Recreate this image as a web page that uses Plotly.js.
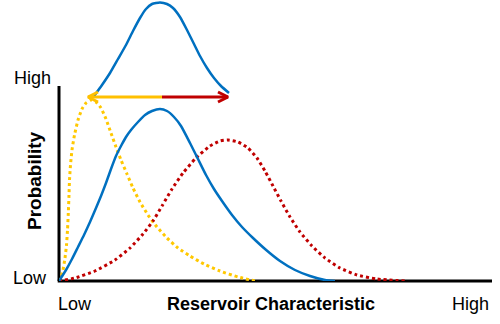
<!DOCTYPE html>
<html>
<head>
<meta charset="utf-8">
<script src="https://cdn.plot.ly/plotly-3.0.1.min.js"></script>
<style>html,body{margin:0;padding:0;background:#fff;}#chart{width:500px;height:324px;}</style>
</head>
<body>
<div id="chart"></div>
<script>
// Low-case distribution (yellow dotted)
var lowX = [0, 2, 4, 6, 7.5, 8.5, 9.3, 10, 10.5, 11.5, 13, 15.5, 19, 23, 27, 32, 37, 42, 47, 52, 57, 62, 68, 74, 81, 89, 98, 108, 119, 131, 145, 161, 179, 196];
var lowY = [0, 4, 11, 23, 36, 51, 68, 86, 101, 116, 131, 146, 161, 172, 178, 181, 179, 173, 162, 148, 134, 121, 107, 93, 79, 66, 54, 43, 33, 25, 17, 10, 4, 0];
// Mid-case distribution (blue solid)
var midX = [0, 7, 13, 19, 25, 31, 37, 42, 47, 52, 57, 62, 67, 72, 79, 86, 93, 101, 108, 115, 122, 131, 139, 147, 155, 163, 173, 183, 194, 206, 221, 236, 251, 266, 276];
var midY = [0, 11, 22, 34, 46, 59, 73, 85, 98, 112, 125, 135, 144, 151, 159, 166, 170, 172, 170, 164, 155, 138, 122, 106, 92, 80, 66, 54, 43, 32, 20, 11, 5, 1, 0];
// High-case distribution (red dotted)
var highX = [0, 16, 36, 56, 71, 84, 94, 103, 113, 124, 137, 151, 161, 169, 179, 189, 198, 206, 214, 222, 231, 241, 253, 266, 281, 298, 318, 346];
var highY = [0, 3, 10, 21, 33, 47, 60, 75, 92, 108, 123, 135, 140, 141, 139, 133, 123, 110, 95, 80, 64, 49, 35, 23, 13, 6, 2, 0];
// Upper bell curve (blue solid)
var bellX = [35, 43, 51, 59, 67, 74, 81, 87, 93, 101, 108, 114, 121, 128, 135, 141, 148, 155, 162, 170];
var bellY = [185, 196, 208, 222, 236, 250, 263, 272, 277, 278.5, 277, 273, 264, 251, 237, 225, 213, 203, 195, 188];
// Range arrow
var arrowLevel = 184;
var arrowLowEnd = 29;
var arrowSplit = 103;
var arrowHighEnd = 169;
// Labels
var xTickLabels = ['Low', 'High'];
var yTickLabels = ['Low', 'High'];
var xTitle = 'Reservoir Characteristic';
var yTitle = 'Probability';

var BLUE = '#0070C0', RED = '#C00000', GOLD = '#FFC800', ARROWY = '#FFC000';
var headL = 10, headH = 5;
var SM = 0.5;

var traces = [
  {x: lowX, y: lowY, mode: 'lines', line: {color: GOLD, width: 3, dash: 'dot', shape: 'spline', smoothing: SM}},
  {x: highX, y: highY, mode: 'lines', line: {color: RED, width: 3, dash: 'dot', shape: 'spline', smoothing: SM}},
  {x: midX, y: midY, mode: 'lines', line: {color: BLUE, width: 2.5, shape: 'spline', smoothing: SM}},
  {x: bellX, y: bellY, mode: 'lines', line: {color: BLUE, width: 2.5, shape: 'spline', smoothing: SM}},
  {x: [arrowLowEnd, arrowSplit], y: [arrowLevel, arrowLevel], mode: 'lines', line: {color: ARROWY, width: 3}},
  {x: [arrowLowEnd + headL, arrowLowEnd, arrowLowEnd + headL], y: [arrowLevel + headH, arrowLevel, arrowLevel - headH], mode: 'lines', line: {color: ARROWY, width: 3}},
  {x: [arrowSplit, arrowHighEnd], y: [arrowLevel, arrowLevel], mode: 'lines', line: {color: RED, width: 3}},
  {x: [arrowHighEnd - headL, arrowHighEnd, arrowHighEnd - headL], y: [arrowLevel + headH, arrowLevel, arrowLevel - headH], mode: 'lines', line: {color: RED, width: 3}}
];

var F = 'Arial, "Liberation Sans", sans-serif';
var PL = 59, PW = 433, PH = 281;
function px(x) { return (x - PL) / PW; }
function py(y) { return (PH - y) / PH; }
var annotations = [
  {x: 32, y: 78, text: yTickLabels[1]},
  {x: 30, y: 278, text: yTickLabels[0]},
  {x: 75, y: 303.5, text: xTickLabels[0]},
  {x: 470, y: 303.5, text: xTickLabels[1]},
  {x: 271, y: 303.5, text: '<b>' + xTitle + '</b>', size: 18},
  {x: 34, y: 181, text: '<b>' + yTitle + '</b>', size: 19, angle: -90}
].map(function (a) {
  return {x: px(a.x), y: py(a.y), xref: 'paper', yref: 'paper', text: a.text, showarrow: false,
    xanchor: 'center', yanchor: 'middle', textangle: a.angle || 0,
    font: {family: F, size: a.size || 18, color: '#000'}};
});

var layout = {
  width: 500, height: 324,
  margin: {l: 59, r: 8, t: 0, b: 43},
  paper_bgcolor: '#fff', plot_bgcolor: '#fff',
  showlegend: false,
  xaxis: {range: [0, 433], visible: false, fixedrange: true},
  yaxis: {range: [0, 281], visible: false, fixedrange: true},
  annotations: annotations,
  shapes: [
    {type: 'line', xref: 'paper', yref: 'paper', x0: -0.003, x1: 1, y0: 0, y1: 0, line: {color: '#000', width: 3}, layer: 'below'},
    {type: 'line', xref: 'paper', yref: 'paper', x0: 0, x1: 0, y0: 0, y1: 195 / 281, line: {color: '#000', width: 3}, layer: 'below'}
  ]
};

Plotly.newPlot('chart', traces, layout, {staticPlot: true, displayModeBar: false});
</script>
</body>
</html>
